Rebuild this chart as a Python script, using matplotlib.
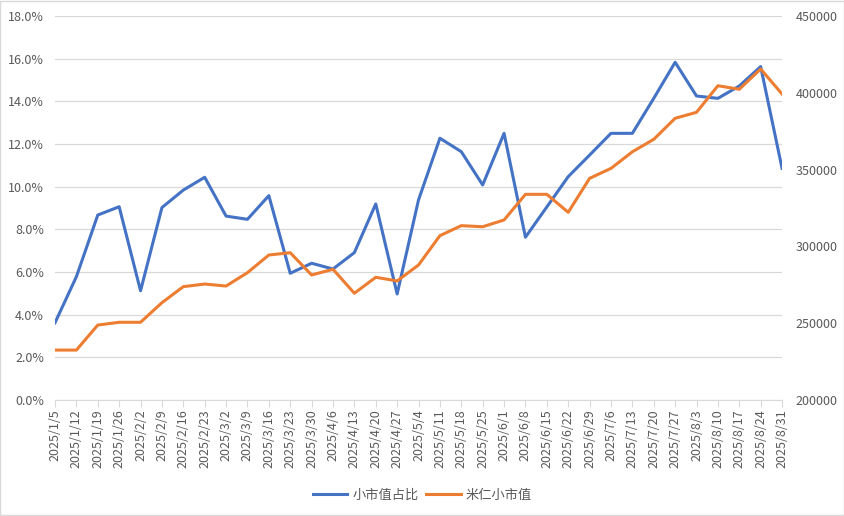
import matplotlib
matplotlib.use("Agg")
import matplotlib.pyplot as plt
from matplotlib.patches import Rectangle
from matplotlib.ticker import FuncFormatter, MultipleLocator

plt.rcParams['font.family'] = ['Noto Sans CJK SC', 'DejaVu Sans']

# weekly dates
dates = ["2025/1/5", "2025/1/12", "2025/1/19", "2025/1/26", "2025/2/2", "2025/2/9",
         "2025/2/16", "2025/2/23", "2025/3/2", "2025/3/9", "2025/3/16", "2025/3/23",
         "2025/3/30", "2025/4/6", "2025/4/13", "2025/4/20", "2025/4/27", "2025/5/4",
         "2025/5/11", "2025/5/18", "2025/5/25", "2025/6/1", "2025/6/8", "2025/6/15",
         "2025/6/22", "2025/6/29", "2025/7/6", "2025/7/13", "2025/7/20", "2025/7/27",
         "2025/8/3", "2025/8/10", "2025/8/17", "2025/8/24", "2025/8/31"]

# 小市值占比 (%), left axis
share = [3.62, 5.78, 8.67, 9.06, 5.12, 9.02, 9.84, 10.44, 8.62, 8.47, 9.58, 5.94,
         6.41, 6.14, 6.91, 9.19, 4.97, 9.38, 12.27, 11.64, 10.08, 12.5, 7.63, 9.05,
         10.47, 11.48, 12.5, 12.5, 14.14, 15.83, 14.25, 14.14, 14.72, 15.63, 10.86]

# 米仁小市值, right axis
cap = [232500, 232500, 248800, 250600, 250600, 263350, 273800, 275500, 274200,
       282900, 294400, 295900, 281400, 285100, 269500, 279900, 277500, 287900,
       307000, 313500, 312800, 317200, 333900, 333900, 322200, 344300, 350800,
       361600, 369700, 383400, 387300, 404600, 402300, 415500, 399200]

blue = "#4472C4"
orange = "#ED7D31"
grid_c = "#D9D9D9"
text_c = "#595959"

fig = plt.figure(figsize=(8.45, 5.16), dpi=100)
fig.patches.append(Rectangle((0.0005, 0.001), 0.998, 0.997, transform=fig.transFigure,
                             fill=False, edgecolor=grid_c, linewidth=1))

ax = fig.add_axes([0.0651, 0.2248, 0.8604, 0.7442])
ax2 = ax.twinx()

x = list(range(len(dates)))
l1, = ax.plot(x, share, color=blue, linewidth=2.2, label="小市值占比", zorder=3)
l2, = ax2.plot(x, cap, color=orange, linewidth=2.2, label="米仁小市值", zorder=3)

ax.set_xlim(0, len(dates) - 1)
ax.set_ylim(0, 18)
ax.yaxis.set_major_locator(MultipleLocator(2))
ax.yaxis.set_major_formatter(FuncFormatter(lambda v, p: f"{v:.1f}%"))
ax2.set_ylim(200000, 450000)
ax2.yaxis.set_major_locator(MultipleLocator(50000))

ax.set_xticks(x)
ax.set_xticklabels(dates, rotation=90)
ax.grid(axis='y', color=grid_c, linewidth=0.9)
ax.set_axisbelow(True)

for a in (ax, ax2):
    for s in a.spines.values():
        s.set_visible(False)
ax.spines['bottom'].set_visible(True)
ax.spines['bottom'].set_color(grid_c)

ax.tick_params(axis='x', colors=grid_c, labelcolor=text_c, labelsize=9, length=5, pad=2)
ax.tick_params(axis='y', length=0, labelcolor=text_c, labelsize=9, pad=8)
ax2.tick_params(axis='y', length=0, labelcolor=text_c, labelsize=9, pad=10)

fig.legend(handles=[l1, l2], loc='lower center', bbox_to_anchor=(0.5, 0.005), ncol=2,
           frameon=False, fontsize=9.5, labelcolor=text_c, handlelength=2.6,
           columnspacing=0.6, handletextpad=0.4)

fig.savefig("out.png", dpi=100)
